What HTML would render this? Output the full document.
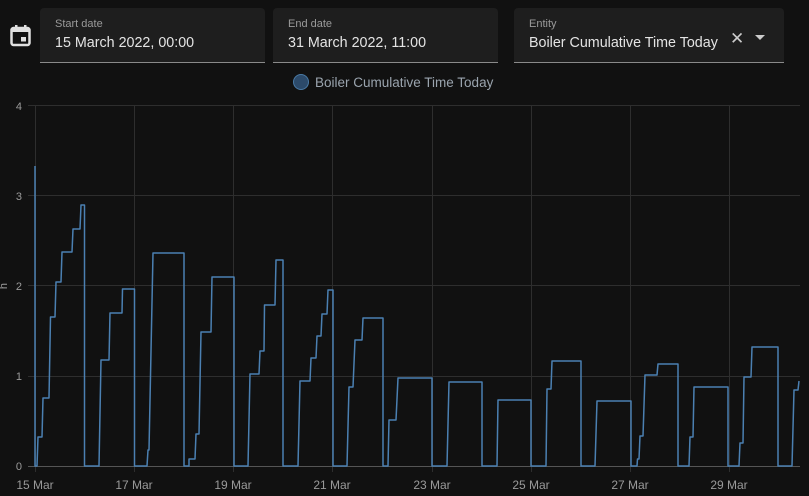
<!DOCTYPE html>
<html><head><style>
body{margin:0;background:#111;width:809px;height:496px;overflow:hidden;font-family:"Liberation Sans",sans-serif;position:relative}
.box{position:absolute;top:8px;height:54px;background:#1e1e1e;border-radius:4px 4px 0 0;border-bottom:1px solid #8a8a8a}
.lbl{position:absolute;left:15px;top:10px;font-size:11px;color:#9a9a9a}
.val{position:absolute;left:15px;top:27px;font-size:14.3px;color:#e4e4e4}
</style></head><body>
<svg style="position:absolute;left:10px;top:24px" width="22" height="24" viewBox="0 0 22 24">
<rect x="1.5" y="4" width="18" height="17" rx="2" fill="none" stroke="#e0e0e0" stroke-width="2.5"/>
<rect x="1.5" y="4" width="18" height="4" fill="#e0e0e0"/>
<rect x="5" y="1" width="2.5" height="4" fill="#e0e0e0"/><rect x="14" y="1" width="2.5" height="4" fill="#e0e0e0"/>
<rect x="11" y="13" width="5" height="4.5" fill="#e0e0e0"/>
</svg>
<div class="box" style="left:40px;width:225px"><div class="lbl">Start date</div><div class="val">15 March 2022, 00:00</div></div>
<div class="box" style="left:273px;width:225px"><div class="lbl">End date</div><div class="val">31 March 2022, 11:00</div></div>
<div class="box" style="left:514px;width:270px"><div class="lbl">Entity</div><div class="val">Boiler Cumulative Time Today</div>
<div style="position:absolute;left:216px;top:21px;color:#ccc;font-size:17px">✕</div>
<div style="position:absolute;left:241px;top:27px;width:0;height:0;border-left:5px solid transparent;border-right:5px solid transparent;border-top:5px solid #ccc"></div></div>
<svg style="position:absolute;left:0;top:0" width="809" height="496">
<circle cx="301" cy="82" r="7.5" fill="#2c4a6a" stroke="#4a7aa5" stroke-width="1"/>
<text x="315" y="87" font-size="13.5" fill="#9aa4ae" font-family="Liberation Sans">Boiler Cumulative Time Today</text>
<g stroke="#2e2e2e" stroke-width="1">
<line x1="28" y1="105.5" x2="800" y2="105.5"/><line x1="28" y1="195.5" x2="800" y2="195.5"/><line x1="28" y1="285.5" x2="800" y2="285.5"/><line x1="28" y1="376.5" x2="800" y2="376.5"/>
<line x1="35.5" y1="105" x2="35.5" y2="472"/><line x1="134.5" y1="105" x2="134.5" y2="472"/><line x1="233.5" y1="105" x2="233.5" y2="472"/><line x1="332.5" y1="105" x2="332.5" y2="472"/><line x1="432.5" y1="105" x2="432.5" y2="472"/><line x1="531.5" y1="105" x2="531.5" y2="472"/><line x1="630.5" y1="105" x2="630.5" y2="472"/><line x1="729.5" y1="105" x2="729.5" y2="472"/>
</g>
<line x1="28" y1="466.5" x2="800" y2="466.5" stroke="#555"/>
<g font-size="11" fill="#9a9a9a" font-family="Liberation Sans" text-anchor="end">
<text x="22" y="110">4</text><text x="22" y="200">3</text><text x="22" y="290">2</text><text x="22" y="380">1</text><text x="22" y="470">0</text></g>
<text x="7" y="286" font-size="11" fill="#9a9a9a" transform="rotate(-90 7 286)" text-anchor="middle">h</text>
<g font-size="12" fill="#9a9a9a" font-family="Liberation Sans" text-anchor="middle">
<text x="35" y="489">15 Mar</text><text x="134" y="489">17 Mar</text><text x="233" y="489">19 Mar</text><text x="332" y="489">21 Mar</text><text x="432" y="489">23 Mar</text><text x="531" y="489">25 Mar</text><text x="630" y="489">27 Mar</text><text x="729" y="489">29 Mar</text></g>
<polyline fill="none" stroke="#4b80b2" stroke-width="1.5" stroke-linejoin="round" points="
35,166 35,466 37,466 38,437 42,437 43,398 49,398 50.5,317 55,317 56,282 61,282 62,252 72,252 73,229 80,229 81,205 84.5,205 84.5,466
99,466 101,360 109,360 110,313 122,313 122.5,289 134.5,289 134.5,466
147,466 148,450 149,450 153,253 184,253 184,466 189,466 189,459 195,459 196,434 199,434 201,332 211,332 212,277 234,277 234,466
248,466 250,374 259,374 260,351 264,351 264.5,305 275,305 276,260 283,260 283,466
298,466 300,381 310,381 311,358 316,358 317,336 321,336 322,314 327,314 328,290 333,290 333,466
347,466 349,387 353,387 355,340 362,340 363,318 383,318 383,466 388,466 389,420 396,420 398,378 432,378 432,466
447,466 449,382 482,382 482,466 497,466 498,400 531,400 531,466
546,466 547,389 551,389 552,361 581,361 581,466 595,466 597,401 631,401 631,466
637,466 637.5,459 639,459 640,436 643,436 645,375 657,375 658,364 678,364 678,466
689,466 690,437 693,437 694,387 728,387 728,466 739,466 740,443 743,443 744,377 751,377 752,347 778,347 778,466
792,466 794,390 798,390 799,381"/>
</svg>
</body></html>
